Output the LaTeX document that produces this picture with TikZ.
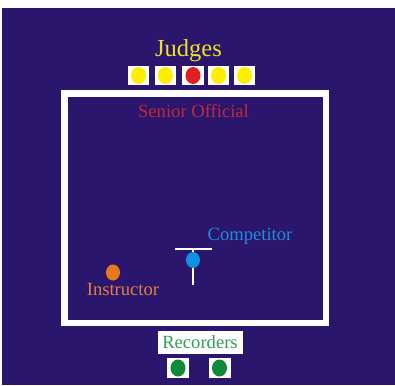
\documentclass[tikz,border=0pt]{standalone}
\usepackage{fontspec}
\setmainfont{Liberation Serif}
\usetikzlibrary{shapes.geometric}
\definecolor{bgblue}{RGB}{42,22,108}
\definecolor{judgeyellow}{RGB}{238,226,40}
\definecolor{seniorred}{RGB}{196,40,56}
\definecolor{compblue}{RGB}{34,140,222}
\definecolor{instorange}{RGB}{226,128,64}
\definecolor{recgreen}{RGB}{48,160,84}
\definecolor{dotyellow}{RGB}{255,238,0}
\definecolor{dotred}{RGB}{224,32,32}
\definecolor{dotblue}{RGB}{16,144,224}
\definecolor{dotorange}{RGB}{232,120,32}
\definecolor{dotgreen}{RGB}{16,138,58}
\tikzset{
  lbl/.style={inner sep=0pt, anchor=base, font=\fontsize{18.6}{20}\selectfont},
  seat/.style={fill=white, draw=none, minimum width=21.5pt, minimum height=19pt, inner sep=0pt},
  dot/.style={ellipse, draw=none, minimum width=15pt, minimum height=17pt, inner sep=0pt},
  person/.style={ellipse, draw=none, minimum width=14pt, minimum height=16pt, inner sep=0pt}
}
\begin{document}
\begin{tikzpicture}[x=1pt,y=-1pt]
\useasboundingbox (0,0) rectangle (395,385);
\fill[white] (0,0) rectangle (395,385);
\fill[bgblue] (2,8) rectangle (395,385);
% competition area
\node[draw=white, line width=6.5pt, minimum width=261.5pt, minimum height=229.5pt, inner sep=0pt] (area) at (195.3,208.2) {};
% judges
\node[lbl, text=judgeyellow, font=\fontsize{24.5}{26}\selectfont] (judges) at (188.5,56.7) {Judges};
\foreach \i/\x/\c in {1/138.5/dotyellow,2/165.5/dotyellow,3/193/dotred,4/218.5/dotyellow,5/244.5/dotyellow}{
  \node[seat] (j\i) at (\x,75.5) {};
  \node[dot, fill=\c] (jd\i) at (j\i) {};
}
% senior official
\node[lbl, text=seniorred] (senior) at (193.5,117.5) {Senior Official};
% competitor
\node[lbl, text=compblue] (comp) at (250,240.7) {Competitor};
\coordinate (tl) at (175,249);
\coordinate (tr) at (212,249);
\coordinate (tb) at (193,285);
\coordinate (tt) at (193,249);
\draw[white, line width=2.5pt] (tl) -- (tr);
\draw[white, line width=2.5pt] (tt) -- (tb);
\node[person, fill=dotblue] (compdot) at (193,260) {};
% instructor
\node[person, fill=dotorange] (instdot) at (113,272.5) {};
\node[lbl, text=instorange] (inst) at (123,295.5) {Instructor};
% recorders
\node[fill=white, minimum width=85pt, minimum height=23pt, inner sep=0pt] (recbox) at (200.5,342.5) {};
\node[lbl, text=recgreen] (rec) at (200,348.3) {Recorders};
\foreach \i/\x in {1/178,2/219.5}{
  \node[seat, minimum width=22pt, minimum height=20pt] (r\i) at (\x,368) {};
  \node[dot, fill=dotgreen] (rd\i) at (r\i) {};
}
\end{tikzpicture}
\end{document}
